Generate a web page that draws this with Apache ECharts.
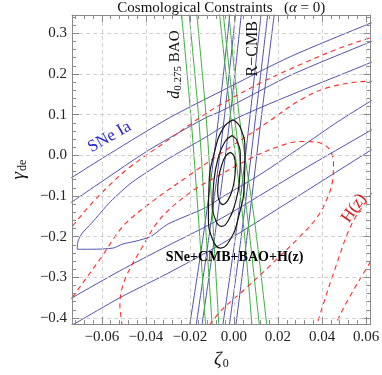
<!DOCTYPE html>
<html>
<head>
<meta charset="utf-8">
<script src="https://cdn.jsdelivr.net/npm/echarts@6/dist/echarts.min.js"></script>
<style>html,body{margin:0;padding:0;background:#fff}#c{width:382px;height:375px}</style>
</head>
<body>
<div id="c"></div>
<script>
// ---- axis ranges & ticks ----
const XMIN = -0.0735, XMAX = 0.062, YMIN = -0.415, YMAX = 0.345;
const xTicks = [-0.06, -0.04, -0.02, 0, 0.02, 0.04, 0.06];
const yTicks = [-0.4, -0.3, -0.2, -0.1, 0, 0.1, 0.2, 0.3];
const xMinorStep = 0.004, yMinorStep = 0.02;

// ---- SNe Ia contours (blue) ----
const sne3Upper = [[-0.0776,-0.068],[-0.0561,0.005],[-0.0294,0.092],[-0.0057,0.158],[0.0258,0.243],[0.0620,0.325],[0.0667,0.335]];
const sne2Upper = [[-0.0776,-0.129],[-0.0734,-0.114],[-0.0604,-0.066],[-0.0389,0.012],[-0.0130,0.092],[-0.0057,0.109],[0.0258,0.197],[0.0620,0.279],[0.0667,0.289]];
const sne1Closed = [[0.0667,0.243],[0.0620,0.228],[0.0301,0.158],[0.0016,0.092],[-0.0130,0.044],[-0.0303,-0.010],[-0.0462,-0.066],[-0.0561,-0.114],[-0.0647,-0.167],[-0.0690,-0.192],[-0.0708,-0.211],[-0.0712,-0.231],[-0.0647,-0.231],[-0.0548,-0.228],[-0.0505,-0.218],[-0.0445,-0.211],[-0.0376,-0.199],[-0.0303,-0.170],[-0.0130,-0.129],[-0.0057,-0.104],[0.0128,-0.044],[0.0301,0.019],[0.0473,0.083],[0.0620,0.133],[0.0667,0.148]];
const sne2Lower = [[-0.0776,-0.364],[-0.0734,-0.350],[-0.0518,-0.284],[-0.0303,-0.223],[-0.0057,-0.155],[0.0301,-0.039],[0.0620,0.061],[0.0667,0.075]];
const sne3Lower = [[-0.0776,-0.427],[-0.0721,-0.413],[-0.0518,-0.350],[-0.0303,-0.291],[-0.0057,-0.218],[0.0301,-0.097],[0.0620,0.012],[0.0667,0.027]];

// ---- R-CMB contours (blue, steep) ----
const cmb1 = [[-0.0014,0.371],[-0.0070,0.092],[-0.0130,-0.163],[-0.0208,-0.442]];
const cmb2 = [[0.0012,0.371],[-0.0044,0.092],[-0.0104,-0.163],[-0.0178,-0.442]];
const cmb3 = [[0.0038,0.371],[-0.0018,0.092],[-0.0078,-0.163],[-0.0152,-0.442]];
const cmb4 = [[0.0128,0.371],[0.0072,0.092],[0.0016,-0.163],[-0.0057,-0.442]];
const cmb5 = [[0.0159,0.371],[0.0098,0.092],[0.0042,-0.163],[-0.0027,-0.442]];
const cmb6 = [[0.0189,0.371],[0.0124,0.092],[0.0068,-0.163],[0.0003,-0.442]];

// ---- BAO contours (green) ----
const baoL1 = [[-0.0242,0.371],[-0.0195,0.092],[-0.0160,-0.163],[-0.0126,-0.442]];
const baoL2 = [[-0.0208,0.371],[-0.0160,0.092],[-0.0130,-0.163],[-0.0096,-0.442]];
const baoL3 = [[-0.0173,0.371],[-0.0126,0.092],[-0.0096,-0.163],[-0.0066,-0.442]];
const baoR1 = [[-0.0070,0.371],[-0.0014,0.092],[0.0042,-0.163],[0.0085,-0.442]];
const baoR2 = [[-0.0053,0.371],[0.0003,0.092],[0.0064,-0.163],[0.0120,-0.442]];
const baoR3 = [[-0.0027,0.371],[0.0025,0.092],[0.0094,-0.163],[0.0154,-0.442]];

// ---- H(z) contours (red dashed) ----
const hzOuterUpper = [[-0.0777,-0.211],[-0.0734,-0.175],[-0.0647,-0.119],[-0.0574,-0.078],[-0.0475,-0.030],[-0.0303,0.036],[-0.0143,0.097],[-0.0057,0.126],[0.0128,0.180],[0.0301,0.223],[0.0473,0.262],[0.0620,0.289],[0.0689,0.299]];
const hzOuterLower = [[0.0646,-0.243],[0.0620,-0.262],[0.0516,-0.357],[0.0460,-0.417],[0.0443,-0.437]];
const hzMidUpper = [[-0.0755,-0.369],[-0.0734,-0.350],[-0.0604,-0.252],[-0.0505,-0.175],[-0.0389,-0.121],[-0.0203,-0.049],[-0.0031,0.015],[0.0150,0.080],[0.0301,0.136],[0.0430,0.167],[0.0620,0.182],[0.0689,0.180]];
const hzMidLower = [[0.0646,-0.073],[0.0620,-0.097],[0.0534,-0.170],[0.0456,-0.284],[0.0387,-0.398],[0.0370,-0.430]];
const hzInner = [[-0.0501,-0.442],[-0.0514,-0.393],[-0.0518,-0.369],[-0.0497,-0.308],[-0.0419,-0.228],[-0.0333,-0.155],[-0.0195,-0.090],[-0.0057,-0.046],[0.0085,-0.005],[0.0189,0.019],[0.0301,0.034],[0.0378,0.032],[0.0430,0.017],[0.0452,-0.018],[0.0447,-0.066],[0.0417,-0.114],[0.0374,-0.155],[0.0301,-0.199],[0.0172,-0.267],[0.0042,-0.333],[-0.0057,-0.381],[-0.0117,-0.422]];

// ---- Combined SNe+CMB+BAO+H(z) contours (black) ----
const comboInner = [[-0.0016,0.0073],[0.0000,-0.0015],[0.0007,-0.0250],[0.0003,-0.0570],[-0.0010,-0.0893],[-0.0030,-0.1126],[-0.0050,-0.1214],[-0.0066,-0.1126],[-0.0074,-0.0893],[-0.0070,-0.0570],[-0.0056,-0.0250],[-0.0037,-0.0015]];
const comboMid = [[-0.0009,0.0485],[0.0016,0.0335],[0.0029,-0.0073],[0.0025,-0.0631],[0.0005,-0.1189],[-0.0025,-0.1597],[-0.0057,-0.1748],[-0.0083,-0.1597],[-0.0096,-0.1189],[-0.0091,-0.0631],[-0.0072,-0.0073],[-0.0041,0.0335]];
const comboOuter = [[-0.0005,0.0874],[0.0031,0.0663],[0.0050,0.0085],[0.0047,-0.0704],[0.0022,-0.1493],[-0.0017,-0.2070],[-0.0061,-0.2282],[-0.0097,-0.2070],[-0.0116,-0.1493],[-0.0113,-0.0704],[-0.0088,0.0085],[-0.0049,0.0663]];

// ---- annotation anchors (data coords) ----
const labelSNe = [-0.0565, 0.045];
const labelBAO = [-0.0268, 0.223];
const labelCMB = [0.0085, 0.262];
const labelHz = [0.0545, -0.130];
const labelCombo = [0.0003, -0.250];

// ---------------------------------------------
const SERIF = '"Liberation Serif", "DejaVu Serif", serif';
const FRAME = '#8a8a8a';
function minorList(lo, hi, step) {
  const out = [];
  const start = Math.ceil(lo / step - 1e-9);
  const end = Math.floor(hi / step + 1e-9);
  for (let i = start; i <= end; i++) out.push(+(i * step).toFixed(6));
  return out;
}
const xMinor = minorList(XMIN, XMAX, xMinorStep);
const yMinor = minorList(YMIN, YMAX, yMinorStep);
const fmt = (d) => (v) => (v < -1e-9 ? '\u2212' : '') + Math.abs(v).toFixed(d);

function xAx(pos, major, showLab) {
  return {
    type: 'value', min: XMIN, max: XMAX, position: pos, splitNumber: 7,
    axisLine: { show: major, onZero: false, lineStyle: { color: FRAME, width: 1 } },
    axisTick: { show: true, inside: true, length: major ? 7 : 4, customValues: major ? xTicks : xMinor,
                lineStyle: { color: FRAME, width: 1 } },
    axisLabel: { show: showLab, customValues: xTicks, formatter: fmt(2), fontFamily: SERIF, fontSize: 15, color: '#222', margin: 5 },
    splitLine: { show: showLab, lineStyle: { color: '#d2d2d2', type: [4, 3], width: 1 } },
    z: 5
  };
}
function yAx(pos, major, showLab) {
  return {
    type: 'value', min: YMIN, max: YMAX, position: pos, splitNumber: 8,
    axisLine: { show: major, onZero: false, lineStyle: { color: FRAME, width: 1 } },
    axisTick: { show: true, inside: true, length: major ? 7 : 4, customValues: major ? yTicks : yMinor,
                lineStyle: { color: FRAME, width: 1 } },
    axisLabel: { show: showLab, customValues: yTicks, formatter: fmt(1), fontFamily: SERIF, fontSize: 15, color: '#222', margin: 5 },
    splitLine: { show: showLab, lineStyle: { color: '#d2d2d2', type: [4, 3], width: 1 } },
    z: 5
  };
}

const xAxes = [xAx('bottom', true, true), xAx('top', true, false), xAx('bottom', false, false), xAx('top', false, false)];
xAxes[0].name = '{z|ζ}{s|0}';
xAxes[0].nameLocation = 'middle';
xAxes[0].nameGap = 24;
xAxes[0].nameTextStyle = { rich: {
  z: { fontFamily: SERIF, fontStyle: 'italic', fontSize: 19, color: '#111', lineHeight: 20 },
  s: { fontFamily: SERIF, fontSize: 12, color: '#111', lineHeight: 12, padding: [9, 0, 0, 1], verticalAlign: 'bottom' } } };
const yAxes = [yAx('left', true, true), yAx('right', true, false), yAx('left', false, false), yAx('right', false, false)];
yAxes[0].name = '{g|γ}{s|de}';
yAxes[0].nameLocation = 'middle';
yAxes[0].nameGap = 36;
yAxes[0].nameRotate = 90;
yAxes[0].nameTextStyle = { rich: {
  g: { fontFamily: SERIF, fontStyle: 'italic', fontSize: 19, color: '#111', lineHeight: 20 },
  s: { fontFamily: SERIF, fontSize: 12, color: '#111', lineHeight: 12, padding: [9, 0, 0, 1], verticalAlign: 'bottom' } } };

function lineSeries(data, color, width, dashed, smooth, z) {
  return {
    type: 'line', data: data, xAxisIndex: 0, yAxisIndex: 0,
    symbol: 'none', showSymbol: false, smooth: smooth, clip: true, silent: true,
    lineStyle: { color: color, width: width, type: dashed ? [5, 4] : 'solid' },
    z: z, animation: false
  };
}
const closeLoop = (a) => a.concat([a[0]]);
const BLUE = '#5252ad', GREEN = '#3fae3f', RED = '#ff2b2b', BLACK = '#151515';

const series = [];
[sne3Upper, sne2Upper, sne1Closed, sne2Lower, sne3Lower].forEach(d => series.push(lineSeries(d, BLUE, 1, false, 0.25, 2)));
[cmb1, cmb2, cmb3, cmb4, cmb5, cmb6].forEach(d => series.push(lineSeries(d, BLUE, 1, false, 0.3, 2)));
[baoL1, baoL2, baoL3, baoR1, baoR2, baoR3].forEach(d => series.push(lineSeries(d, GREEN, 1, false, 0.3, 3)));
[hzOuterUpper, hzOuterLower, hzMidUpper, hzMidLower, hzInner].forEach(d => series.push(lineSeries(d, RED, 1.1, true, 0.35, 4)));
[comboInner, comboMid, comboOuter].forEach(d => series.push(lineSeries(closeLoop(d), BLACK, 1.2, false, 0.5, 6)));

const chart = echarts.init(document.getElementById('c'), null, { renderer: 'canvas' });
chart.setOption({
  backgroundColor: '#fff',
  animation: false,
  grid: { left: 60, right: 8, top: 15, bottom: 46, containLabel: false },
  xAxis: xAxes,
  yAxis: yAxes,
  series: series
});

const P = (pt) => chart.convertToPixel({ xAxisIndex: 0, yAxisIndex: 0 }, pt);
const gridRect = chart.getModel().getComponent('grid').coordinateSystem.getRect();
const pSNe = P(labelSNe), pBAO = P(labelBAO), pCMB = P(labelCMB), pHz = P(labelHz), pCombo = P(labelCombo);
const deg = Math.PI / 180;
chart.setOption({
  graphic: [
    { type: 'text', x: gridRect.x + gridRect.width / 2, y: 1, z: 20,
      style: { text: 'Cosmological Constraints   ({a|α} = 0)', fill: '#111', font: '15px ' + SERIF,
               align: 'center', verticalAlign: 'top',
               rich: { a: { fontFamily: SERIF, fontSize: 15, fontStyle: 'italic', fill: '#111' } } } },
    { type: 'text', x: pSNe[0], y: pSNe[1], rotation: 30 * deg, z: 20,
      style: { text: 'SNe Ia', fill: '#2a2ad0', font: '17px ' + SERIF, align: 'center', verticalAlign: 'middle' } },
    { type: 'text', x: pBAO[0], y: pBAO[1], rotation: 90 * deg, z: 20,
      style: { text: '{d|d}{s|0.275}{b| BAO}', align: 'center', verticalAlign: 'middle',
               rich: { d: { fontFamily: SERIF, fontStyle: 'italic', fontSize: 16, fill: '#111', lineHeight: 17 },
                       s: { fontFamily: SERIF, fontSize: 11, fill: '#111', lineHeight: 11, padding: [8, 0, 0, 0], verticalAlign: 'bottom' },
                       b: { fontFamily: SERIF, fontSize: 15, fill: '#111', lineHeight: 17 } } } },
    { type: 'text', x: pCMB[0], y: pCMB[1], rotation: 90 * deg, z: 20,
      style: { text: 'R\u2212CMB', fill: '#111', font: '16px ' + SERIF, align: 'center', verticalAlign: 'middle' } },
    { type: 'text', x: pHz[0], y: pHz[1], rotation: 55 * deg, z: 20,
      style: { text: 'H(z)', fill: '#cc1a1a', font: '17px ' + SERIF, align: 'center', verticalAlign: 'middle' } },
    { type: 'text', x: pCombo[0], y: pCombo[1], z: 20,
      style: { text: 'SNe+CMB+BAO+H(z)', fill: '#000', font: 'bold 14px ' + SERIF, align: 'center', verticalAlign: 'middle' } }
  ]
});
</script>
</body>
</html>
